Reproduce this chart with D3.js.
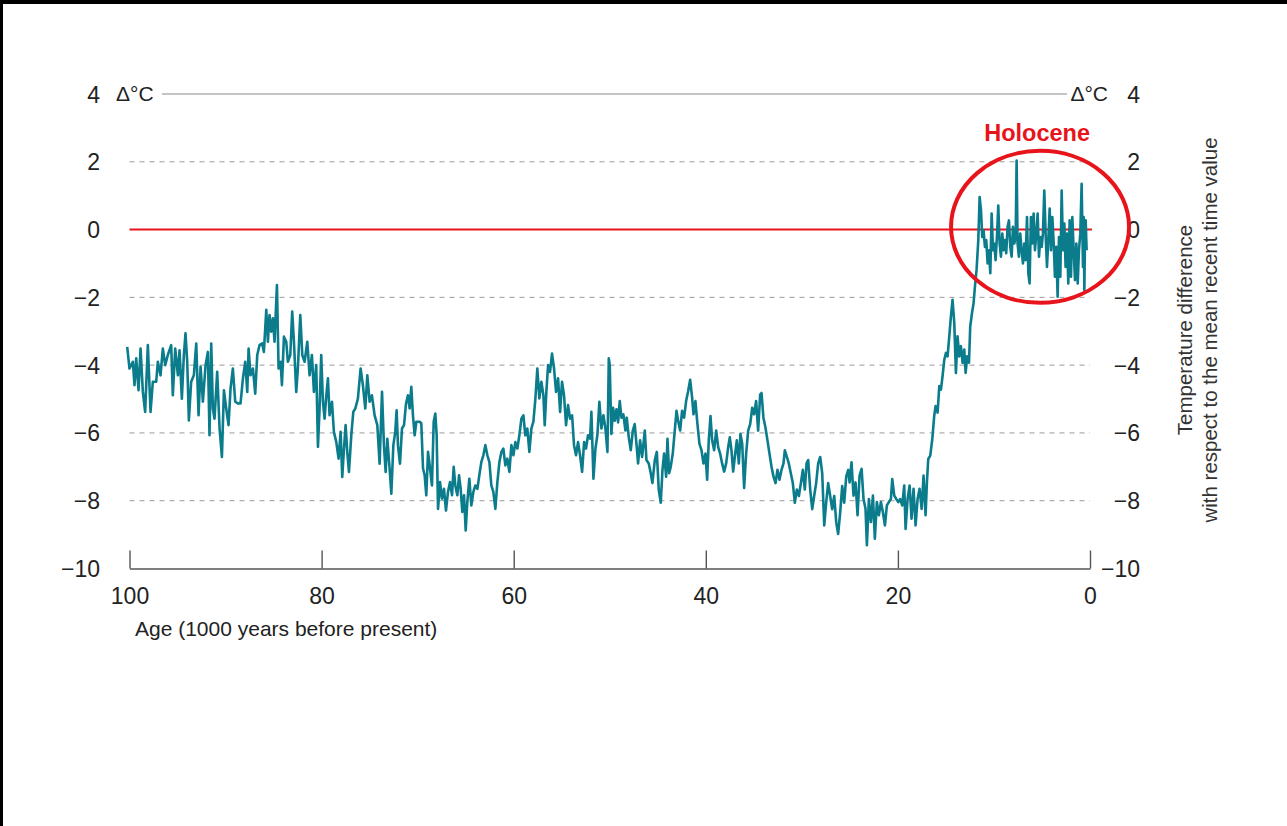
<!DOCTYPE html>
<html>
<head>
<meta charset="utf-8">
<script src="https://cdn.jsdelivr.net/npm/d3@7"></script>
<style>
  html, body { margin: 0; padding: 0; background: #000; }
  svg { display: block; }
  text { font-family: "Liberation Sans", Arial, sans-serif; }
</style>
</head>
<body>
<svg id="chart" width="1287" height="826"></svg>
<script>
// Age in thousands of years before present
const ages = [
  100.24,100.0,99.65,99.48,99.30,99.06,98.85,98.61,98.37,98.09,97.81,97.57,97.22,97.05,96.77,96.53,96.28,96.01,95.66,95.49,
  95.24,94.96,94.79,94.55,94.34,94.17,93.99,93.82,93.58,93.30,93.05,92.81,92.60,92.36,92.08,91.84,91.67,91.49,91.32,91.15,
  90.87,90.62,90.38,90.17,89.93,89.69,89.48,89.24,88.99,88.72,88.44,88.19,87.95,87.74,87.60,87.40,87.15,86.91,86.70,86.46,
  86.18,86.01,85.76,85.59,85.42,85.24,85.07,84.90,84.65,84.48,84.27,84.13,83.92,83.68,83.51,83.26,83.06,82.88,82.64,82.47,
  82.22,82.01,81.77,81.49,81.25,81.01,80.80,80.56,80.38,80.21,80.04,79.86,79.69,79.51,79.34,79.17,78.92,78.72,78.47,78.23,
  78.02,77.85,77.67,77.50,77.33,77.15,76.91,76.70,76.49,76.22,75.94,75.70,75.45,75.24,
  75.0,74.76,74.48,74.20,73.96,73.71,73.51,73.33,73.16,72.92,72.74,72.53,72.33,72.19,72.05,71.84,71.63,71.42,71.21,71.01,
  70.83,70.66,70.49,70.31,70.14,69.79,69.62,69.44,69.27,69.10,68.92,68.71,68.51,68.33,68.16,68.02,67.88,67.67,67.47,67.26,
  67.05,66.84,66.63,66.42,66.25,66.08,65.87,65.69,65.52,65.35,65.17,65.0,64.83,64.62,64.41,64.20,63.99,63.78,63.58,63.37,
  63.16,62.95,62.74,62.53,62.33,62.12,61.91,61.70,61.49,61.28,61.08,60.87,60.66,60.45,60.24,60.03,59.83,59.62,59.41,59.20,
  58.99,58.79,58.58,58.37,58.16,57.95,57.74,57.54,57.33,57.12,56.91,56.77,56.60,56.42,56.22,56.01,55.80,55.59,55.38,55.17,
  54.97,54.76,54.55,54.34,54.13,53.92,53.72,53.51,53.30,53.09,52.88,52.67,52.47,52.26,52.05,51.91,51.70,51.49,51.29,51.08,
  50.87,50.66,50.45,50.24,50.10,
  50.0,49.83,49.65,49.48,49.30,49.13,48.96,48.78,48.58,48.37,48.23,48.02,47.81,47.60,47.40,47.22,47.05,46.84,46.63,46.49,
  46.35,46.18,45.94,45.73,45.56,45.31,45.10,44.90,44.69,44.51,44.34,44.13,43.99,43.82,43.65,43.44,43.23,43.05,42.88,42.67,
  42.47,42.26,42.05,41.84,41.63,41.42,41.28,41.08,40.87,40.66,40.45,40.24,40.03,39.86,39.69,39.51,39.34,39.13,38.92,38.71,
  38.51,38.30,38.09,37.88,37.67,37.50,37.33,37.15,36.98,36.77,36.56,36.39,36.21,36.01,35.80,35.59,35.38,35.17,34.97,34.76,
  34.55,34.34,34.20,34.0,33.79,33.58,33.37,33.16,32.95,32.74,32.54,32.33,32.12,31.91,31.77,31.56,31.36,31.15,30.94,30.73,
  30.52,30.31,30.10,29.90,29.69,29.51,29.34,29.13,28.92,28.72,28.51,28.30,28.09,27.88,27.67,27.47,27.26,27.05,26.84,26.63,
  26.42,26.22,26.01,25.80,25.59,25.38,25.17,
  25.03,24.83,24.62,24.41,24.20,23.99,23.78,23.58,23.37,23.23,23.02,22.81,22.60,22.40,22.19,21.98,21.77,21.56,21.35,21.15,
  20.94,20.73,20.59,20.38,20.17,19.96,19.76,19.55,19.34,19.20,18.99,18.78,18.58,18.37,18.16,17.95,17.74,17.53,17.33,17.12,
  16.98,16.84,16.63,16.42,16.22,16.08,15.87,15.69,15.52,15.35,15.17,15.0,14.83,14.65,14.48,14.31,14.13,13.96,13.79,13.61,
  13.44,13.26,13.09,12.95,12.78,12.60,12.47,12.29,12.12,11.98,11.81,11.63,11.49,11.35,11.22,11.08,10.94,10.80,10.66,10.52,
  10.38,10.24,10.10,9.97,9.83,9.69,9.55,9.41,9.27,9.13,8.99,8.85,8.72,8.58,8.44,8.30,8.16,8.02,7.88,7.74,
  7.64,7.54,7.40,7.26,7.12,6.98,6.84,6.70,6.56,6.42,6.29,6.15,6.01,5.87,5.73,5.59,5.45,5.31,5.17,5.03,
  4.90,4.76,4.62,4.48,4.34,4.20,4.06,3.92,3.78,3.65,3.51,3.37,3.23,3.09,2.95,2.81,2.67,2.54,2.40,2.26,
  2.12,1.98,1.84,1.70,1.56,1.42,1.28,1.15,1.01,0.87,0.73,0.66,0.59,0.52,0.45,0.35
];

// Temperature difference (°C) relative to the mean recent value
const temps = [
  -3.46,-4.10,-3.90,-4.59,-3.80,-4.74,-3.51,-4.79,-5.38,-3.41,-5.38,-4.49,-4.49,-3.90,-4.30,-3.51,-4.00,-3.70,-3.41,-4.89,
  -3.51,-4.30,-3.56,-4.99,-3.70,-3.06,-3.90,-5.63,-4.49,-4.30,-3.36,-5.48,-4.05,-5.08,-4.00,-3.61,-6.07,-3.36,-5.28,-5.58,
  -4.20,-5.87,-6.71,-4.74,-5.28,-5.77,-4.69,-4.10,-5.08,-5.13,-5.13,-4.39,-3.90,-4.79,-3.51,-4.30,-4.10,-4.84,-3.70,-3.41,
  -3.36,-3.61,-2.37,-3.31,-2.52,-3.01,-2.62,-3.31,-1.64,-4.10,-3.90,-4.59,-3.16,-3.31,-3.90,-3.70,-2.42,-3.31,-4.79,-4.10,
  -2.52,-3.70,-3.90,-3.31,-4.30,-3.70,-4.79,-4.00,-6.41,-5.28,-3.70,-5.08,-5.58,-4.89,-4.39,-5.48,-5.08,-5.97,-6.27,-6.76,
  -5.97,-7.30,-6.46,-5.77,-6.56,-7.15,-6.07,-5.38,-5.28,-4.99,-4.10,-4.59,-5.28,-4.30,
  -5.08,-4.89,-5.48,-5.77,-6.91,-4.79,-6.36,-7.15,-6.17,-7.05,-7.79,-6.36,-5.97,-5.33,-6.36,-6.91,-5.87,-5.77,-5.13,-4.89,
  -5.28,-4.64,-5.48,-6.07,-5.67,-5.67,-5.72,-7.05,-7.25,-7.84,-6.56,-7.05,-7.55,-5.67,-5.43,-6.07,-8.24,-7.45,-7.94,-7.65,
  -8.29,-7.74,-7.45,-7.84,-7.00,-7.55,-7.84,-7.25,-7.65,-8.33,-7.84,-8.88,-8.04,-7.35,-8.14,-7.74,-7.55,-7.65,-7.25,-6.86,
  -6.66,-6.36,-6.66,-6.86,-7.55,-7.74,-8.24,-7.45,-6.86,-6.56,-6.46,-6.96,-6.76,-7.15,-6.36,-6.66,-6.27,-6.46,-6.07,-5.58,
  -5.48,-6.07,-5.87,-6.56,-5.87,-5.67,-4.98,-4.10,-4.98,-4.49,-4.89,-5.77,-4.79,-4.00,-4.20,-3.66,-4.10,-4.79,-4.39,-5.38,
  -4.49,-4.89,-5.77,-5.18,-5.58,-5.48,-6.36,-6.66,-6.27,-6.66,-7.15,-6.27,-6.46,-6.07,-6.17,-5.38,-7.35,-6.46,-6.07,-5.08,
  -5.87,-5.48,-5.87,-6.56,-3.80,
  -4.00,-6.03,-5.26,-5.64,-5.30,-5.69,-5.06,-5.55,-5.45,-5.93,-5.55,-6.13,-6.51,-5.93,-5.74,-6.32,-6.90,-6.22,-6.71,-6.32,
  -5.93,-6.80,-6.90,-7.19,-7.48,-6.80,-6.56,-7.67,-8.06,-7.09,-6.61,-7.29,-6.17,-7.19,-7.00,-6.61,-5.93,-5.35,-5.64,-5.93,
  -5.35,-5.55,-5.06,-4.77,-4.43,-4.97,-5.45,-5.06,-5.74,-6.32,-6.51,-6.90,-6.61,-7.38,-6.22,-5.50,-6.22,-6.51,-5.93,-6.42,
  -6.61,-6.90,-7.14,-6.90,-6.42,-6.13,-6.51,-7.14,-6.71,-6.22,-6.90,-6.03,-6.32,-7.62,-6.61,-5.93,-5.74,-5.26,-5.45,-5.06,
  -5.93,-4.87,-4.82,-5.55,-5.84,-6.22,-6.61,-7.00,-7.29,-7.48,-7.09,-7.38,-7.09,-6.90,-6.51,-6.71,-6.90,-7.19,-7.48,-8.06,
  -7.67,-7.86,-7.48,-7.09,-7.67,-6.90,-6.80,-7.67,-8.25,-7.86,-7.48,-6.90,-6.71,-7.19,-8.73,-8.06,-7.48,-7.86,-8.25,-7.86,
  -8.64,-8.98,-8.35,-7.57,-8.06,-7.29,-7.09,
  -7.46,-6.87,-7.85,-7.46,-8.43,-7.26,-7.06,-7.95,-8.24,-9.31,-7.95,-8.63,-7.85,-9.12,-8.04,-8.43,-8.04,-8.34,-8.73,-8.14,
  -8.04,-7.95,-7.36,-7.85,-7.95,-8.04,-7.95,-8.14,-7.55,-8.83,-7.95,-7.55,-8.53,-7.65,-8.73,-7.95,-7.65,-8.24,-7.26,-8.43,
  -7.46,-6.77,-6.67,-6.18,-5.50,-5.21,-5.40,-4.62,-4.72,-4.32,-3.84,-3.64,-3.74,-3.15,-2.56,-2.07,-2.76,-4.23,-3.15,-3.74,
  -3.44,-3.93,-3.54,-4.23,-3.74,-3.93,-2.86,-2.47,-2.17,-1.68,-1.19,-0.31,0.96,0.57,-0.22,-0.02,-0.51,-0.31,-1.00,-0.61,
  -1.29,0.47,-0.61,-0.41,-0.90,-0.22,0.71,-0.41,-0.80,-0.12,-0.61,-0.31,-0.70,0.08,0.27,-0.51,-0.80,0.08,-0.41,-0.22,
  2.04,-0.41,-0.80,-0.12,-0.61,-1.00,-0.41,-0.90,0.37,-1.29,-1.59,0.37,-0.41,0.47,-0.61,-0.12,0.47,-0.80,-0.22,-0.51,
  -0.12,1.15,-0.12,-1.10,-0.31,0.62,-0.61,0.37,-0.41,-1.39,-0.51,-1.98,-0.22,-1.39,1.15,-0.61,0.18,-1.10,-0.12,-1.59,
  0.27,-1.39,0.37,-0.61,-1.49,-0.41,-1.59,-0.61,-0.12,1.35,-1.10,0.37,-1.78,-0.22,0.27,-0.61
];

const xTicks = [100, 80, 60, 40, 20, 0];
const yTicks = [4, 2, 0, -2, -4, -6, -8, -10];
const gridValues = [2, -2, -4, -6, -8];

const unitLabel = "\u0394\u00B0C";
const xTitle = "Age (1000 years before present)";
const yTitleLines = ["Temperature difference", "with respect to the mean recent time value"];
const highlightLabel = "Holocene";

const svg = d3.select("#chart");
const W = 1287, H = 826;
const ink = "#222";
const font = "Liberation Sans, Arial, sans-serif";

// frame: black edge on top and left, white page
svg.append("rect").attr("x", 0).attr("y", 0).attr("width", W).attr("height", H).attr("fill", "#000");
svg.append("rect").attr("x", 3).attr("y", 4).attr("width", W - 3).attr("height", H - 4).attr("fill", "#fff");

const x = d3.scaleLinear().domain([100, 0]).range([129.5, 1090]);
const y = d3.scaleLinear().domain([-10, 4]).range([568.5, 94]);

const teal = "#0a7c8c";
const red = "#e8141b";

// dashed gridlines
svg.append("g").selectAll("line").data(gridValues).join("line")
  .attr("x1", x(100)).attr("x2", x(0))
  .attr("y1", d => y(d)).attr("y2", d => y(d))
  .attr("stroke", "#9a9a9a").attr("stroke-width", 1)
  .attr("stroke-dasharray", "5,5");

// solid top line at +4 between the unit labels
svg.append("line")
  .attr("x1", 162).attr("x2", 1067)
  .attr("y1", y(4)).attr("y2", y(4))
  .attr("stroke", "#8a8a8a").attr("stroke-width", 1.2);

// y tick labels on both sides
const leftAxis = d3.axisLeft(y).tickValues(yTicks).tickSize(0).tickPadding(0)
  .tickFormat(d => d < 0 ? "\u2212" + Math.abs(d) : String(d));
for (const tx of [100, 1140]) {
  const g = svg.append("g").attr("transform", `translate(${tx},0)`).call(leftAxis);
  g.select(".domain").remove();
  g.selectAll("text").attr("font-size", 23).attr("fill", ink).attr("dy", "0.35em")
    .attr("font-family", font);
}

// unit labels next to the +4 tick
svg.append("text").attr("x", 116).attr("y", y(4)).attr("dy", "0.35em")
  .attr("font-size", 21).attr("fill", ink).text(unitLabel);
svg.append("text").attr("x", 1108).attr("y", y(4)).attr("dy", "0.35em")
  .attr("text-anchor", "end").attr("font-size", 21).attr("fill", ink).text(unitLabel);

// x axis with upward ticks
const xAxis = d3.axisBottom(x).tickValues(xTicks).tickSize(-18).tickPadding(0).tickSizeOuter(0);
const gx = svg.append("g").attr("transform", `translate(0,${y(-10)})`).call(xAxis);
gx.select(".domain").attr("stroke", "#555").attr("stroke-width", 1.4);
gx.selectAll(".tick line").attr("stroke", "#555").attr("stroke-width", 1.4);
gx.selectAll("text").attr("font-size", 23).attr("fill", ink)
  .attr("font-family", font)
  .attr("y", 0).attr("dy", "1.55em");

svg.append("text").attr("x", 135).attr("y", 636).attr("font-size", 21).attr("fill", ink).text(xTitle);

// right-hand axis title, rotated
const yt = svg.append("text").attr("transform", "translate(1192,330) rotate(-90)")
  .attr("text-anchor", "middle").attr("font-size", 20.5).attr("fill", "#333");
yt.append("tspan").attr("x", 0).attr("y", 0).text(yTitleLines[0]);
yt.append("tspan").attr("x", 0).attr("y", 25).text(yTitleLines[1]);

// zero reference line
svg.append("line")
  .attr("x1", x(100)).attr("x2", x(-0.2))
  .attr("y1", y(0)).attr("y2", y(0))
  .attr("stroke", red).attr("stroke-width", 2);

// temperature record
const series = ages.map((a, i) => ({ age: a, t: temps[i] }));
svg.append("path").datum(series)
  .attr("fill", "none").attr("stroke", teal).attr("stroke-width", 2.6)
  .attr("stroke-linejoin", "round")
  .attr("d", d3.line().x(d => x(d.age)).y(d => y(d.t)));

// Holocene highlight
svg.append("ellipse")
  .attr("cx", x(5.2)).attr("cy", y(0.08))
  .attr("rx", 89).attr("ry", 76)
  .attr("fill", "none").attr("stroke", red).attr("stroke-width", 4);
svg.append("text").attr("x", 1090).attr("y", 141).attr("text-anchor", "end")
  .attr("font-size", 23.5).attr("font-weight", "bold").attr("fill", red)
  .text(highlightLabel);
</script>
</body>
</html>
